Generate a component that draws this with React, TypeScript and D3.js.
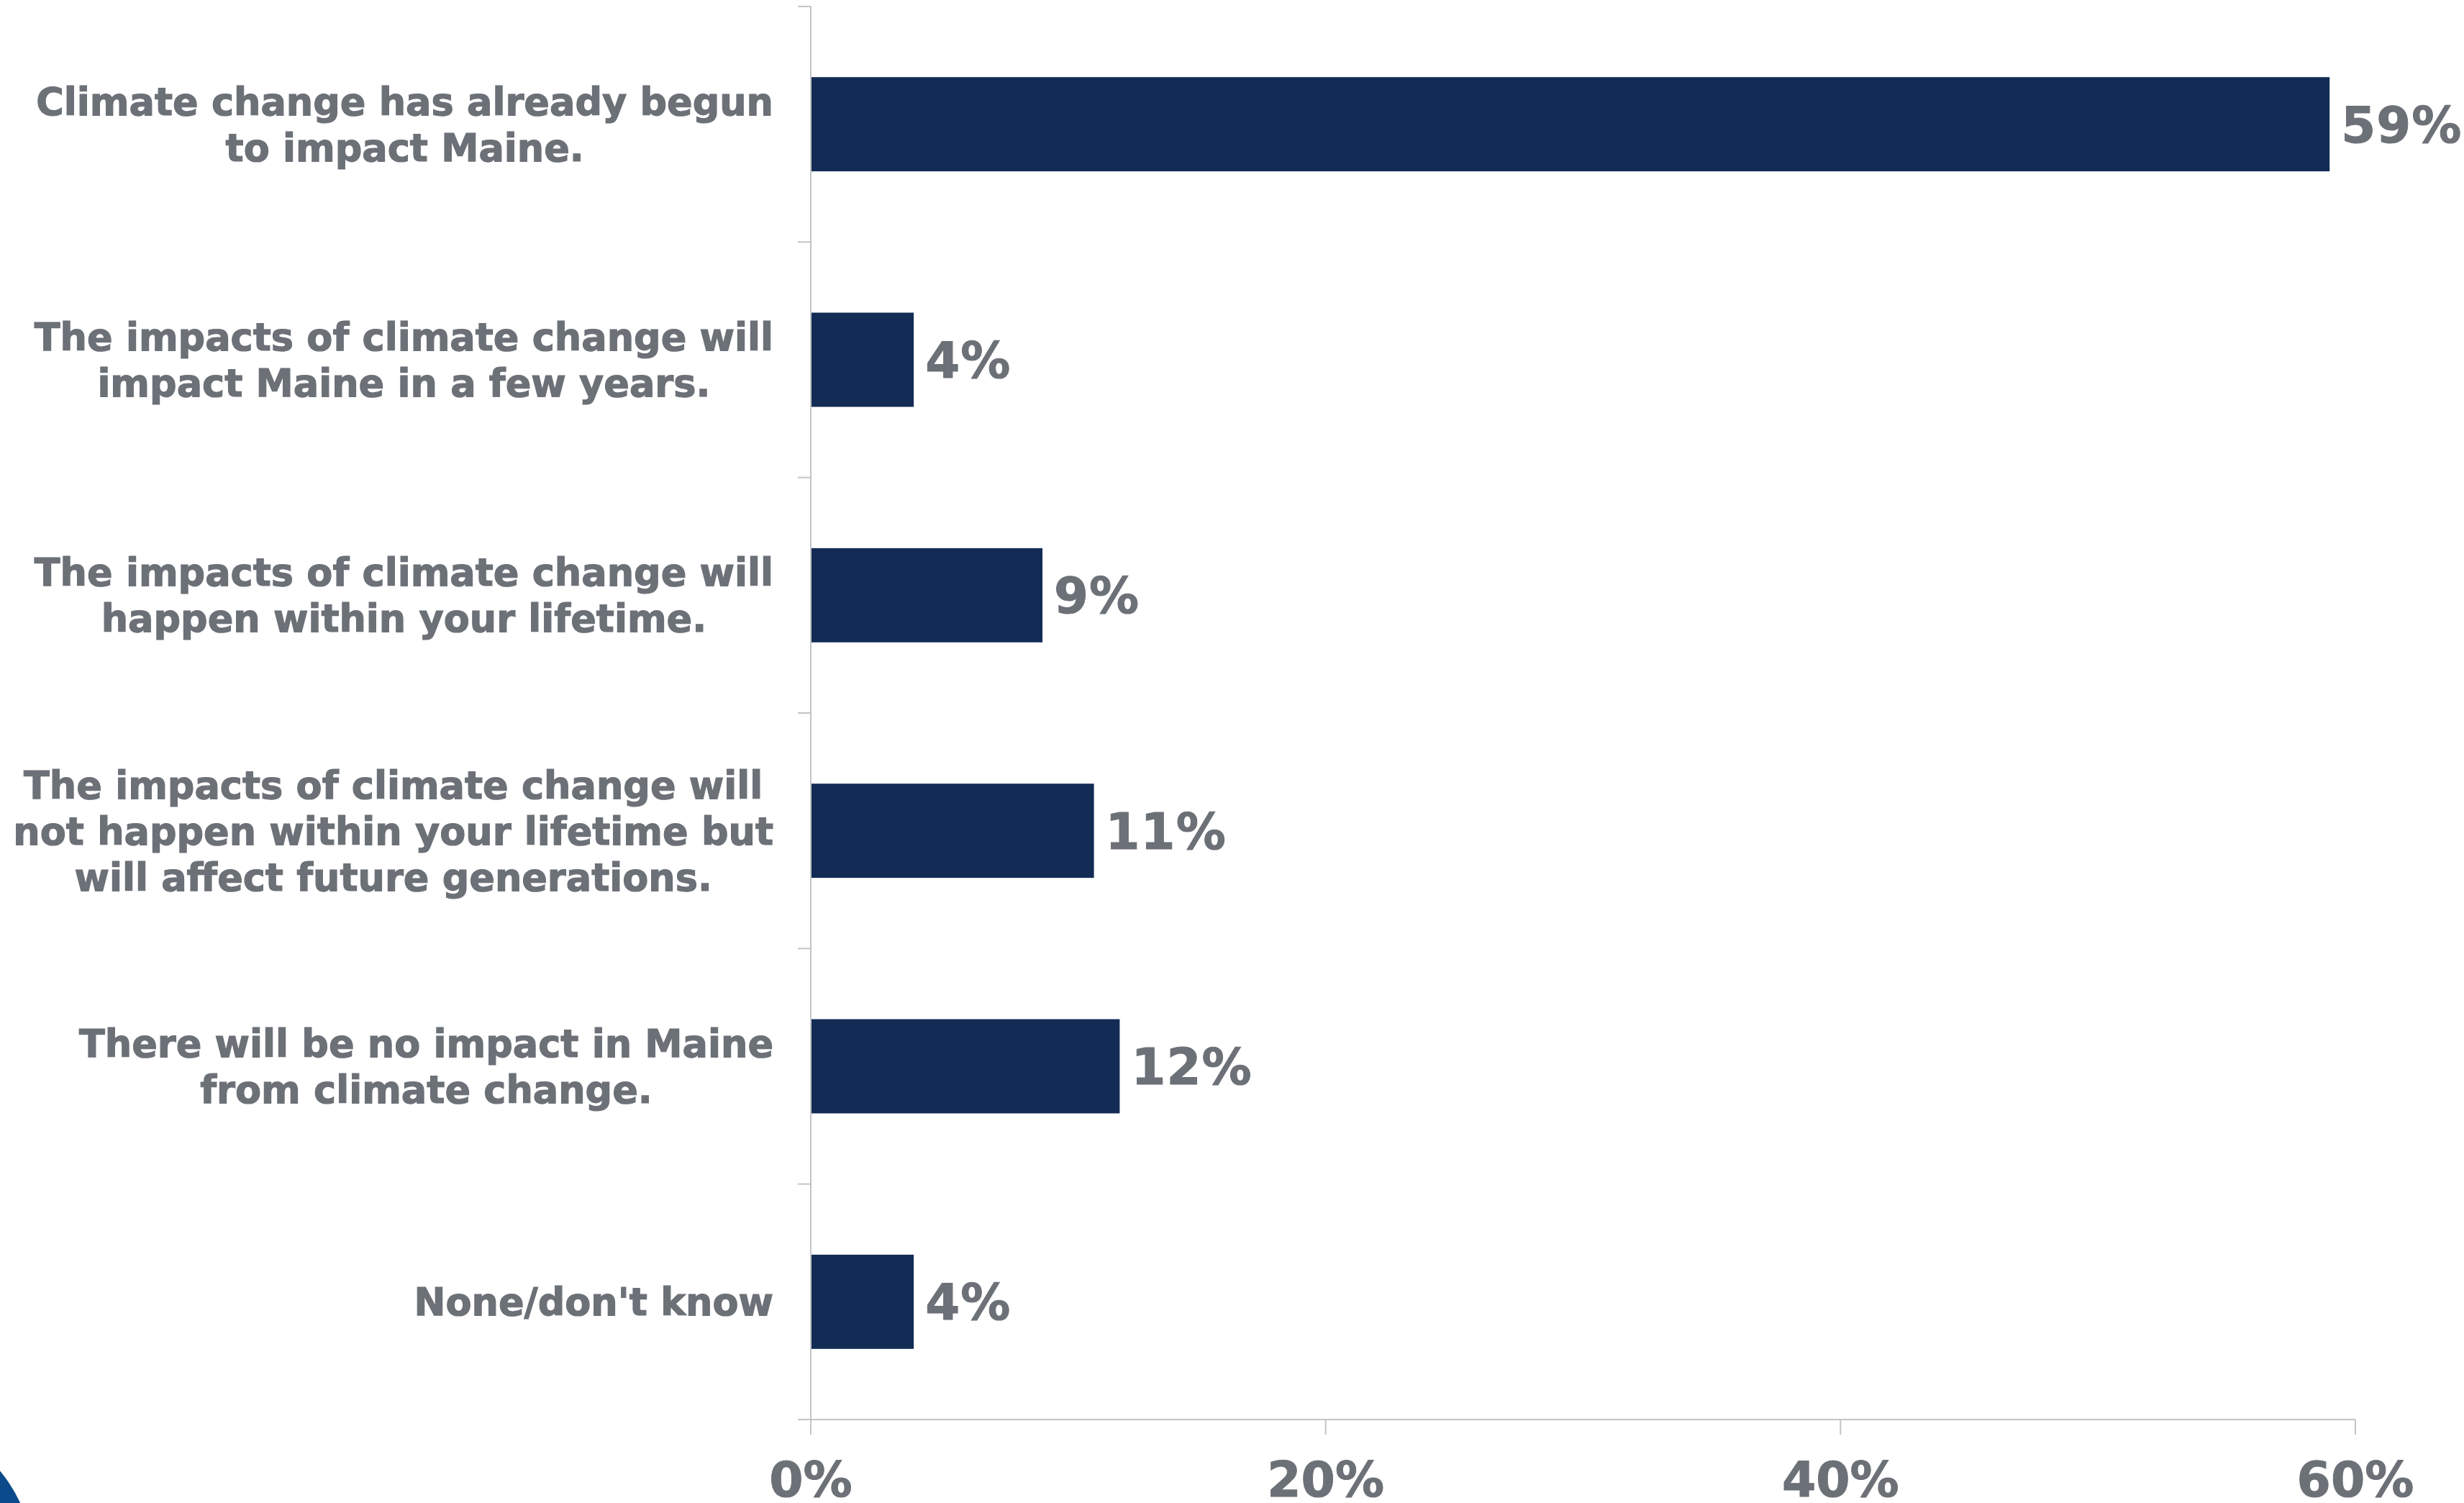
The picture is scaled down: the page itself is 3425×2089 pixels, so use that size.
import React from "react";
import * as d3 from "d3";

const categories: string[][] = [
  ["Climate change has already begun", "to impact Maine."],
  ["The impacts of climate change will", "impact Maine in a few years."],
  ["The impacts of climate change will", "happen within your lifetime."],
  ["The impacts of climate change will", "not happen within your lifetime but", "will affect future generations."],
  ["There will be no impact in Maine", "from climate change."],
  ["None/don't know"],
];
const values: number[] = [59, 4, 9, 11, 12, 4];
const xTicks: number[] = [0, 20, 40, 60];

const W = 3425;
const H = 2089;
const BAR = "#132c56";
const TEXT = "#6c7077";
const AXIS = "#c3c4c6";
const FONT = "'DejaVu Sans', Verdana, sans-serif";
const LABEL_SIZE = 52.5;
const VALUE_SIZE = 69;
const TICK_SIZE = 68;

function measure(text: string, size: number): number {
  const c = document.createElement("canvas").getContext("2d");
  if (!c) return text.length * size * 0.6;
  c.font = `bold ${size}px ${FONT}`;
  return c.measureText(text).width;
}

export default function App() {
  const x0 = 1127;
  const x = d3.scaleLinear().domain([0, 60]).range([x0, 3274]);
  const ids = categories.map((_, i) => String(i));
  const y = d3.scaleBand<string>().domain(ids).range([9, 1973]).paddingInner(0.6).paddingOuter(0.3);
  const step = y.step();
  const yTop = 9;
  const yBottom = 1973;
  const labelRight = 1075;
  const lineH = 64;

  return (
    <svg width={W} height={H} style={{ position: "absolute", left: 0, top: 0, background: "#fff" }}>
      <rect x={0} y={0} width={W} height={H} fill="#ffffff" />
      {/* partial logo circle */}
      <circle cx={-162} cy={2178} r={210} fill="#0c4b8b" />

      {/* bars */}
      {values.map((v, i) => (
        <rect key={"b" + i} x={x(0)} y={y(String(i))} width={x(v) - x(0)} height={y.bandwidth()} fill={BAR} />
      ))}

      {/* axes */}
      <g stroke={AXIS} strokeWidth={2} fill="none">
        <line x1={x0} x2={x0} y1={yTop} y2={yBottom + 21} />
        <line x1={x0 - 18} x2={x(60)} y1={yBottom} y2={yBottom} />
        {d3.range(0, categories.length).map((k) => (
          <line key={"yt" + k} x1={x0 - 18} x2={x0} y1={yTop + k * step} y2={yTop + k * step} />
        ))}
        {xTicks.map((t) => (
          <line key={"xt" + t} x1={x(t)} x2={x(t)} y1={yBottom} y2={yBottom + 21} />
        ))}
      </g>

      {/* x tick labels */}
      {xTicks.map((t) => (
        <text key={"xl" + t} x={x(t)} y={2080} textAnchor="middle" fontFamily={FONT} fontWeight="bold" fontSize={TICK_SIZE} fill={TEXT} stroke={TEXT} strokeWidth={1}>
          {t + "%"}
        </text>
      ))}

      {/* value labels */}
      {values.map((v, i) => {
        const cy = (y(String(i)) as number) + y.bandwidth() / 2;
        return (
          <text key={"v" + i} x={x(v) + 16} y={cy + 25} fontFamily={FONT} fontWeight="bold" fontSize={VALUE_SIZE} fill={TEXT} stroke={TEXT} strokeWidth={1} letterSpacing={1}>
            {v + "%"}
          </text>
        );
      })}

      {/* category labels */}
      {categories.map((lines, i) => {
        const cy = (y(String(i)) as number) + y.bandwidth() / 2;
        const maxW = Math.max(...lines.map((l) => measure(l, LABEL_SIZE)));
        const cx = labelRight - maxW / 2;
        const n = lines.length;
        return (
          <text key={"c" + i} textAnchor="middle" fontFamily={FONT} fontWeight="bold" fontSize={LABEL_SIZE} fill={TEXT} stroke={TEXT} strokeWidth={1.2}>
            {lines.map((l, j) => (
              <tspan key={j} x={cx} y={cy + (j - (n - 1) / 2) * lineH + 19}>
                {l}
              </tspan>
            ))}
          </text>
        );
      })}
    </svg>
  );
}
